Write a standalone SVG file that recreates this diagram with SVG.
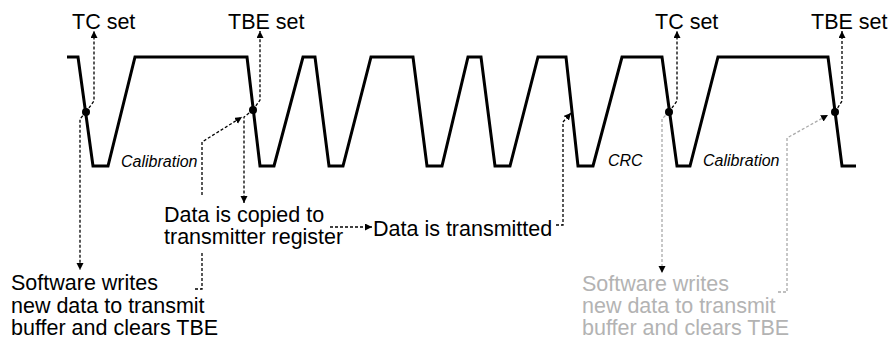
<svg xmlns="http://www.w3.org/2000/svg" width="891" height="341" viewBox="0 0 891 341">
<style>
.t{font-family:"Liberation Sans",Arial,sans-serif;font-size:21.5px;fill:#000}
.g{fill:#b3b3b3}
.i{font-family:"Liberation Sans",Arial,sans-serif;font-size:16px;font-style:italic;fill:#000}
.wave{fill:none;stroke:#000;stroke-width:3;stroke-linejoin:miter}
.d{fill:none;stroke:#000;stroke-width:1.3;stroke-dasharray:3 2}
.dg{fill:none;stroke:#aaaaaa;stroke-width:1.3;stroke-dasharray:3 2}
</style>
<defs>
<marker id="ah" markerUnits="userSpaceOnUse" markerWidth="8" markerHeight="8" refX="7" refY="3.5" orient="auto">
<path d="M0,0 L7,3.5 L0,7 z" fill="#000"/>
</marker>
</defs>
<rect width="891" height="341" fill="#fff"/>
<g id="waveform">
<polyline class="wave" points="67,57 78,57 93,166 108,166 135,57 247,57 260,166 274,166 303,57 315,57 329,166 343,166 371,57 413,57 427,166 442,166 468,57 481,57 495,166 510,166 538,57 566,57 578,166 593,166 622,57 662,57 677,166 690,166 718,57 828,57 842,166 856,166"/>
<text class="i" x="121" y="167">Calibration</text>
<text class="i" x="608" y="166">CRC</text>
<text class="i" x="703" y="166">Calibration</text>
</g>
<g id="connectors">
<polyline class="d" points="86,112 94,101 94,31" marker-end="url(#ah)"/>
<polyline class="d" points="86,112 80,119 80,270" marker-end="url(#ah)"/>
<polyline class="d" points="253,110 260,100 260,31" marker-end="url(#ah)"/>
<polyline class="d" points="253,110 244,117 244,203" marker-end="url(#ah)"/>
<polyline class="d" points="195,289 202,289 202,252"/>
<polyline class="d" points="202,195 202,142 242,117" marker-end="url(#ah)"/>
<line class="d" x1="330" y1="227" x2="372" y2="227" marker-end="url(#ah)"/>
<polyline class="d" points="556,225 563,225 563,122 571,113" marker-end="url(#ah)"/>
<polyline class="d" points="669,112 677,101 677,31" marker-end="url(#ah)"/>
<polyline class="dg" points="669,112 662,119 662,273" marker-end="url(#ah)"/>
<polyline class="d" points="835,112 842,101 842,31" marker-end="url(#ah)"/>
<polyline class="dg" points="778,292 787,292 787,138 828,115" marker-end="url(#ah)"/>
</g>
<g id="dots">
<circle cx="86" cy="112" r="4"/>
<circle cx="253" cy="110" r="4"/>
<circle cx="669" cy="112" r="4"/>
<circle cx="835" cy="112" r="4"/>
</g>
<g id="tc-set-1"><text class="t" x="72" y="29">TC set</text></g>
<g id="tbe-set-1"><text class="t" x="228" y="29">TBE set</text></g>
<g id="tc-set-2"><text class="t" x="655" y="29">TC set</text></g>
<g id="tbe-set-2"><text class="t" x="811" y="29">TBE set</text></g>
<g id="copied"><text class="t" x="164" y="222">Data is copied to</text><text class="t" x="164" y="244">transmitter register</text></g>
<g id="transmitted"><text class="t" x="373" y="236">Data is transmitted</text></g>
<g id="software-1"><text class="t" x="11" y="290">Software writes</text><text class="t" x="11" y="313">new data to transmit</text><text class="t" x="11" y="335">buffer and clears TBE</text></g>
<g id="software-2"><text class="t g" x="582" y="291">Software writes</text><text class="t g" x="582" y="313">new data to transmit</text><text class="t g" x="582" y="335">buffer and clears TBE</text></g>
</svg>
